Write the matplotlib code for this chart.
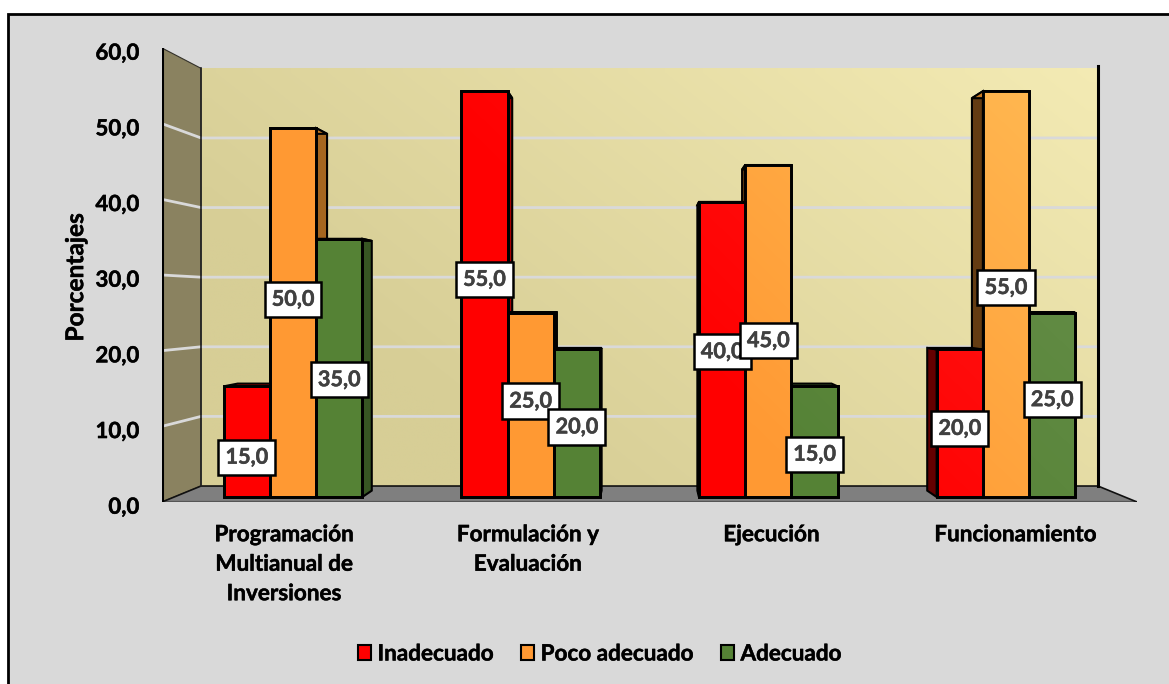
import numpy as np
import matplotlib
matplotlib.use("Agg")
import matplotlib.pyplot as plt
import matplotlib.patheffects as pe
from matplotlib.patches import Polygon, Rectangle
from matplotlib.lines import Line2D
from matplotlib.transforms import ScaledTranslation

# ---- data ----
categories = ["Programación\nMultianual de\nInversiones", "Formulación y\nEvaluación", "Ejecución", "Funcionamiento"]
inadecuado = [15.0, 55.0, 40.0, 20.0]
poco_adecuado = [50.0, 25.0, 45.0, 55.0]
adecuado = [35.0, 20.0, 15.0, 25.0]
series_names = ["Inadecuado", "Poco adecuado", "Adecuado"]
y_ticks = [0, 10, 20, 30, 40, 50, 60]

# ---- label anchors (height along each bar, value units) ----
anchor_inadecuado = [5.4, 29.5, 19.7, 9.3]
anchor_poco = [26.8, 13.0, 21.2, 28.4]
anchor_adecuado = [15.9, 9.5, 5.8, 13.2]

# ---- style ----
W, H = 1169, 684
front_colors = ["#ff0000", "#ff9933", "#558235"]
side_dark = ["#a80000", "#a5661f", "#375623"]
side_darker = ["#640000", "#643c12", "#2a4019"]
top_colors = ["#c40000", "#c77a25", "#3f6229"]
overlay_rgb = [(1, 1, 1), (1, 1, 0.59), (1, 1, 1)]
overlay_gain = [0.35, 1.0, 0.35]
FONT = "Lato"
plt.rcParams["font.family"] = [FONT, "DejaVu Sans"]
plt.rcParams["font.weight"] = "bold"


def heavy(color, w=0.35):
    return [pe.withStroke(linewidth=w, foreground=color)]


fig = plt.figure(figsize=(W / 100, H / 100), dpi=100, facecolor="white")
fig.patches.append(Rectangle((7.8 / W, -0.1), 1.2, 1 - 13.8 / H + 0.1, transform=fig.transFigure,
                             facecolor="#d9d9d9", edgecolor="black", linewidth=2.0, zorder=-5))

# the axes is the chart's front plane
L, R, T, B = 162, 1137, 48, 502
ax = fig.add_axes([L / W, 1 - B / H, (R - L) / W, (B - T) / H])
ax.patch.set_alpha(0)
XMIN, XMAX, YMIN, YMAX = -0.5, 3.5, 0, 60

VP = (1.5, 26.4)       # vanishing point, data units
K_WALL, K_BAR, K_BAR_BACK = 0.92, 0.975, 0.943
BAR_W = 0.1945


def proj(x, y, k):
    return VP[0] + k * (x - VP[0]), VP[1] + k * (y - VP[1])


def gradient(extent, fn, n=48):
    us = np.linspace(extent[0], extent[1], n)
    vs = np.linspace(extent[2], extent[3], n)
    uu, vv = np.meshgrid((us - XMIN) / (XMAX - XMIN), (vs - YMIN) / (YMAX - YMIN))
    return fn(uu, vv)


# back wall
bx0, by0 = proj(XMIN, 0, K_WALL)
bx1, by1 = proj(XMAX, 60, K_WALL)
c0, c1 = np.array(matplotlib.colors.to_rgb("#d7ce96")), np.array(matplotlib.colors.to_rgb("#f5ecb5"))


def wall_fn(u, v):
    t = np.clip(0.85 * u + 0.5 * v - 0.35, 0, 1)[..., None]
    return c0 + t * (c1 - c0)


ax.imshow(gradient((bx0, bx1, by0, by1), wall_fn), extent=(bx0, bx1, by0, by1), origin="lower",
          aspect="auto", zorder=1, interpolation="bilinear")

# left wall and floor
ax.add_patch(Polygon([proj(XMIN, 0, 1), proj(XMIN, 60, 1), proj(XMIN, 60, K_WALL), proj(XMIN, 0, K_WALL)],
                     facecolor="#8a8260", edgecolor="#33312a", linewidth=0.8, zorder=1.2))
ax.add_patch(Polygon([proj(XMIN, 0, 1), proj(XMAX, 0, 1), proj(XMAX, 0, K_WALL), proj(XMIN, 0, K_WALL)],
                     facecolor="#7f7f7f", edgecolor="none", zorder=1.2))

# gridlines on walls
for v in y_ticks[1:-1]:
    ax.add_line(Line2D(*zip(proj(XMIN, v, 1), proj(XMIN, v, K_WALL), proj(XMAX, v, K_WALL)),
                       color="#d9d9d9", linewidth=2, zorder=1.5, solid_joinstyle="miter"))

# frame lines
ax.add_line(Line2D(*zip(proj(XMIN, 60, 1), proj(XMIN, 0, 1), proj(XMIN, 0, K_WALL), proj(XMAX, 0, K_WALL),
                        proj(XMAX, 0, 1)), color="#111111", linewidth=1.2, zorder=1.6))
ax.add_line(Line2D(*zip(proj(XMIN, 60, 1), proj(XMIN, 0, 1)), color="black", linewidth=2.2, zorder=1.7))
ax.add_line(Line2D(*zip(proj(XMAX, 0, K_WALL), proj(XMAX, 60.3, K_WALL)), color="black", linewidth=2.2, zorder=1.7))
ax.add_line(Line2D(*zip(proj(XMIN, 60, K_WALL), proj(XMIN, 0, K_WALL)), color="#222222", linewidth=1.2, zorder=1.7))
ax.add_line(Line2D(*zip(proj(XMIN, 0, 1), proj(XMAX, 0, 1)), color="#555555", linewidth=1.6, zorder=1.4))


def make_shade(s):
    def shade(u, v):
        a = np.clip(0.44 * u + 0.21 * v - 0.29, 0, 1) * overlay_gain[s]
        img = np.ones(a.shape + (4,))
        img[..., :3] = overlay_rgb[s]
        img[..., 3] = a
        return img
    return shade


# bars, farthest from the centre first
series = [inadecuado, poco_adecuado, adecuado]
items = [(abs(c + (s - 1) * BAR_W - VP[0]), c, s) for c in range(4) for s in range(3)]
items.sort(key=lambda t: -t[0])
z = 2.0
legend_handles = {}
for _, c, s in items:
    val = series[s][c]
    xl, xr = c + (s - 1.5) * BAR_W, c + (s - 0.5) * BAR_W
    # side face
    edge = xr if (xr + xl) / 2 < VP[0] else xl
    fc = side_dark[s] if edge == xr else side_darker[s]
    ax.add_patch(Polygon([proj(edge, 0, K_BAR), proj(edge, val, K_BAR), proj(edge, val, K_BAR_BACK), proj(edge, 0, K_BAR_BACK)],
                         facecolor=fc, edgecolor="black", linewidth=1.5, zorder=z, joinstyle="miter"))
    # top face
    ax.add_patch(Polygon([proj(xl, val, K_BAR), proj(xr, val, K_BAR), proj(xr, val, K_BAR_BACK), proj(xl, val, K_BAR_BACK)],
                         facecolor=top_colors[s], edgecolor="black", linewidth=1.5, zorder=z, joinstyle="miter"))
    # front face
    x0, y0 = proj(xl, 0, K_BAR)
    x1, y1 = proj(xr, val, K_BAR)
    bar = ax.bar(x0, y1 - y0, x1 - x0, bottom=y0, align="edge", color=front_colors[s], edgecolor="black",
                 linewidth=2, zorder=z + 0.01)
    legend_handles[s] = bar[0]
    ax.imshow(gradient((x0, x1, y0, y1), make_shade(s)), extent=(x0, x1, y0, y1), origin="lower", aspect="auto",
              zorder=z + 0.02, interpolation="bilinear")
    ax.add_patch(Rectangle((x0, y0), x1 - x0, y1 - y0, facecolor="none", edgecolor="black", linewidth=2,
                           zorder=z + 0.03))
    z += 0.1

# data labels
anchors = [anchor_inadecuado, anchor_poco, anchor_adecuado]
for c in range(4):
    for s in range(3):
        px, py = proj(c + (s - 1) * BAR_W, anchors[s][c], K_BAR)
        ax.text(px, py, f"{series[s][c]:.1f}".replace(".", ","), ha="center", va="center", color="#404040",
                fontsize=15.6, fontweight="bold", zorder=10 + c + s * 0.1, path_effects=heavy("#404040"),
                bbox=dict(boxstyle="square,pad=0.33", facecolor="white", edgecolor="black", linewidth=1.8))

# axes furniture
ax.set_xlim(XMIN, XMAX)
ax.set_ylim(YMIN, YMAX)
ax.set_xticks(range(4))
ax.set_xticklabels(categories, fontsize=16.2, fontweight="bold", linespacing=1.5, path_effects=heavy("#0a0a0a"))
ax.set_yticks(y_ticks)
ax.set_yticklabels([f"{v:.1f}".replace(".", ",") for v in y_ticks], fontsize=16, fontweight="bold",
                   path_effects=heavy("#0a0a0a"))
ax.tick_params(axis="x", length=0, pad=16)
ax.tick_params(axis="y", length=0, pad=16.5)
shift = ScaledTranslation(0, -2.3 / 72, fig.dpi_scale_trans)
for lab in ax.get_yticklabels():
    lab.set_transform(lab.get_transform() + shift)
for sp in ax.spines.values():
    sp.set_visible(False)
ax.set_ylabel("Porcentajes", fontsize=17.6, fontweight="bold", labelpad=6, y=0.495, path_effects=heavy("#0a0a0a"))

leg = ax.legend([legend_handles[i] for i in range(3)], series_names, ncols=3, frameon=False, fontsize=16.2,
                loc="center", bbox_to_anchor=(599.5 / W, 1 - 654 / H), bbox_transform=fig.transFigure,
                handlelength=0.6, handleheight=0.62, handletextpad=0.28, columnspacing=1.22)
for h in leg.legend_handles:
    h.set_edgecolor("black")
    h.set_linewidth(1.5)
for t in leg.get_texts():
    t.set_path_effects(heavy("#0a0a0a"))

fig.savefig("out.png", dpi=100, facecolor="white")
